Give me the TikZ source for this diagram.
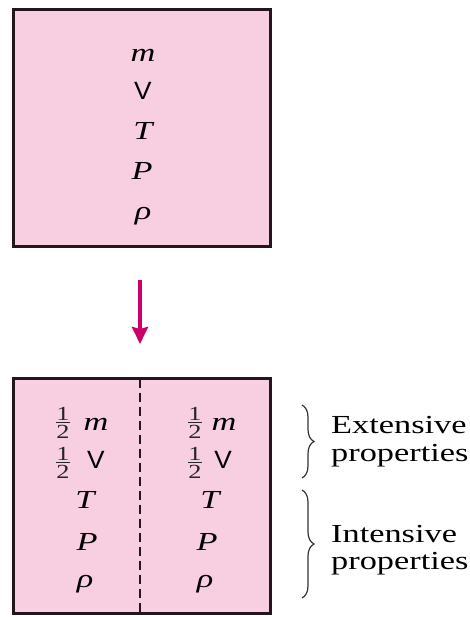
\documentclass[tikz,border=0pt]{standalone}
\usepackage{fontspec}
\setmainfont{Liberation Serif}[FakeStretch=1.32]
\newfontfamily\voltfont{Liberation Sans}[FakeStretch=1.05]
\usetikzlibrary{arrows.meta,decorations.pathreplacing}
\definecolor{boxpink}{RGB}{248,207,225}
\definecolor{arrowmag}{RGB}{205,0,105}
\definecolor{edge}{RGB}{35,22,28}
% small stacked one-half
\newcommand{\halfsym}{\vbox{\fontsize{20}{20}\selectfont\offinterlineskip
  \halign{\hfil##\hfil\cr 1\cr\noalign{\kern2pt\hrule height 1pt\kern2pt} 2\cr}}}
\tikzset{
  sym/.style={inner sep=0pt, anchor=base, font=\fontsize{26}{30}\selectfont\itshape},
  volsym/.style={inner sep=0pt, anchor=base, font=\fontsize{25}{30}\selectfont\voltfont},
  fracsym/.style={inner sep=0pt, anchor=center, text=black!85},
  proplabel/.style={inner sep=0pt, anchor=base west, font=\fontsize{26}{30}\selectfont},
  container/.style={draw=edge, line width=3pt, fill=boxpink, inner sep=0pt},
  grouping/.style={decorate, decoration={brace, amplitude=12pt}, draw=black!80, line width=1.2pt},
}
\begin{document}
\begin{tikzpicture}[x=1pt,y=-1pt]
\useasboundingbox (0,0) rectangle (470,617);

% undivided system
\node[container, minimum width=257pt, minimum height=237pt] (whole) at (142,128) {};
\node[sym]    (wm) at (143,62)  {m};
\node[volsym] (wV) at (143,100) {V};
\node[sym]    (wT) at (143,140) {T};
\node[sym]    (wP) at (142,180) {P};
\node[sym]    (wr) at (143,220) {ρ};

% arrow to the divided system
\coordinate (a0) at (140,280);
\coordinate (a1) at (140,344);
\draw[arrowmag, line width=4.5pt, -{Stealth[length=17pt,width=16pt,inset=2pt]}] (a0) -- (a1);

% divided system
\node[container, minimum width=257pt, minimum height=235pt] (split) at (142,496) {};
\coordinate (d0) at (140,378.5);
\coordinate (d1) at (140,613.5);
\draw[edge, line width=1.5pt, dash pattern=on 9pt off 5pt] (d0) -- (d1);

% left half
\node[fracsym] (lf1) at (63,423) {\halfsym};
\node[sym]     (lm)  at (96,430) {m};
\node[fracsym] (lf2) at (63,463) {\halfsym};
\node[volsym]  (lV)  at (96,468) {V};
\node[sym]     (lT)  at (85,508) {T};
\node[sym]     (lP)  at (87,550) {P};
\node[sym]     (lr)  at (85,587) {ρ};

% right half
\node[fracsym] (rf1) at (195,423) {\halfsym};
\node[sym]     (rm)  at (224,430) {m};
\node[fracsym] (rf2) at (195,463) {\halfsym};
\node[volsym]  (rV)  at (223,468) {V};
\node[sym]     (rT)  at (210,508) {T};
\node[sym]     (rP)  at (207,550) {P};
\node[sym]     (rr)  at (205,587) {ρ};

% property groups
\coordinate (e0) at (302,405);
\coordinate (e1) at (302,478);
\draw[grouping] (e0) -- (e1);
\node[proplabel] (ext1) at (331,433) {Extensive};
\node[proplabel] (ext2) at (331,461) {properties};

\coordinate (i0) at (302,490);
\coordinate (i1) at (302,598);
\draw[grouping] (i0) -- (i1);
\node[proplabel] (int1) at (331,542) {Intensive};
\node[proplabel] (int2) at (331,569) {properties};
\end{tikzpicture}
\end{document}
